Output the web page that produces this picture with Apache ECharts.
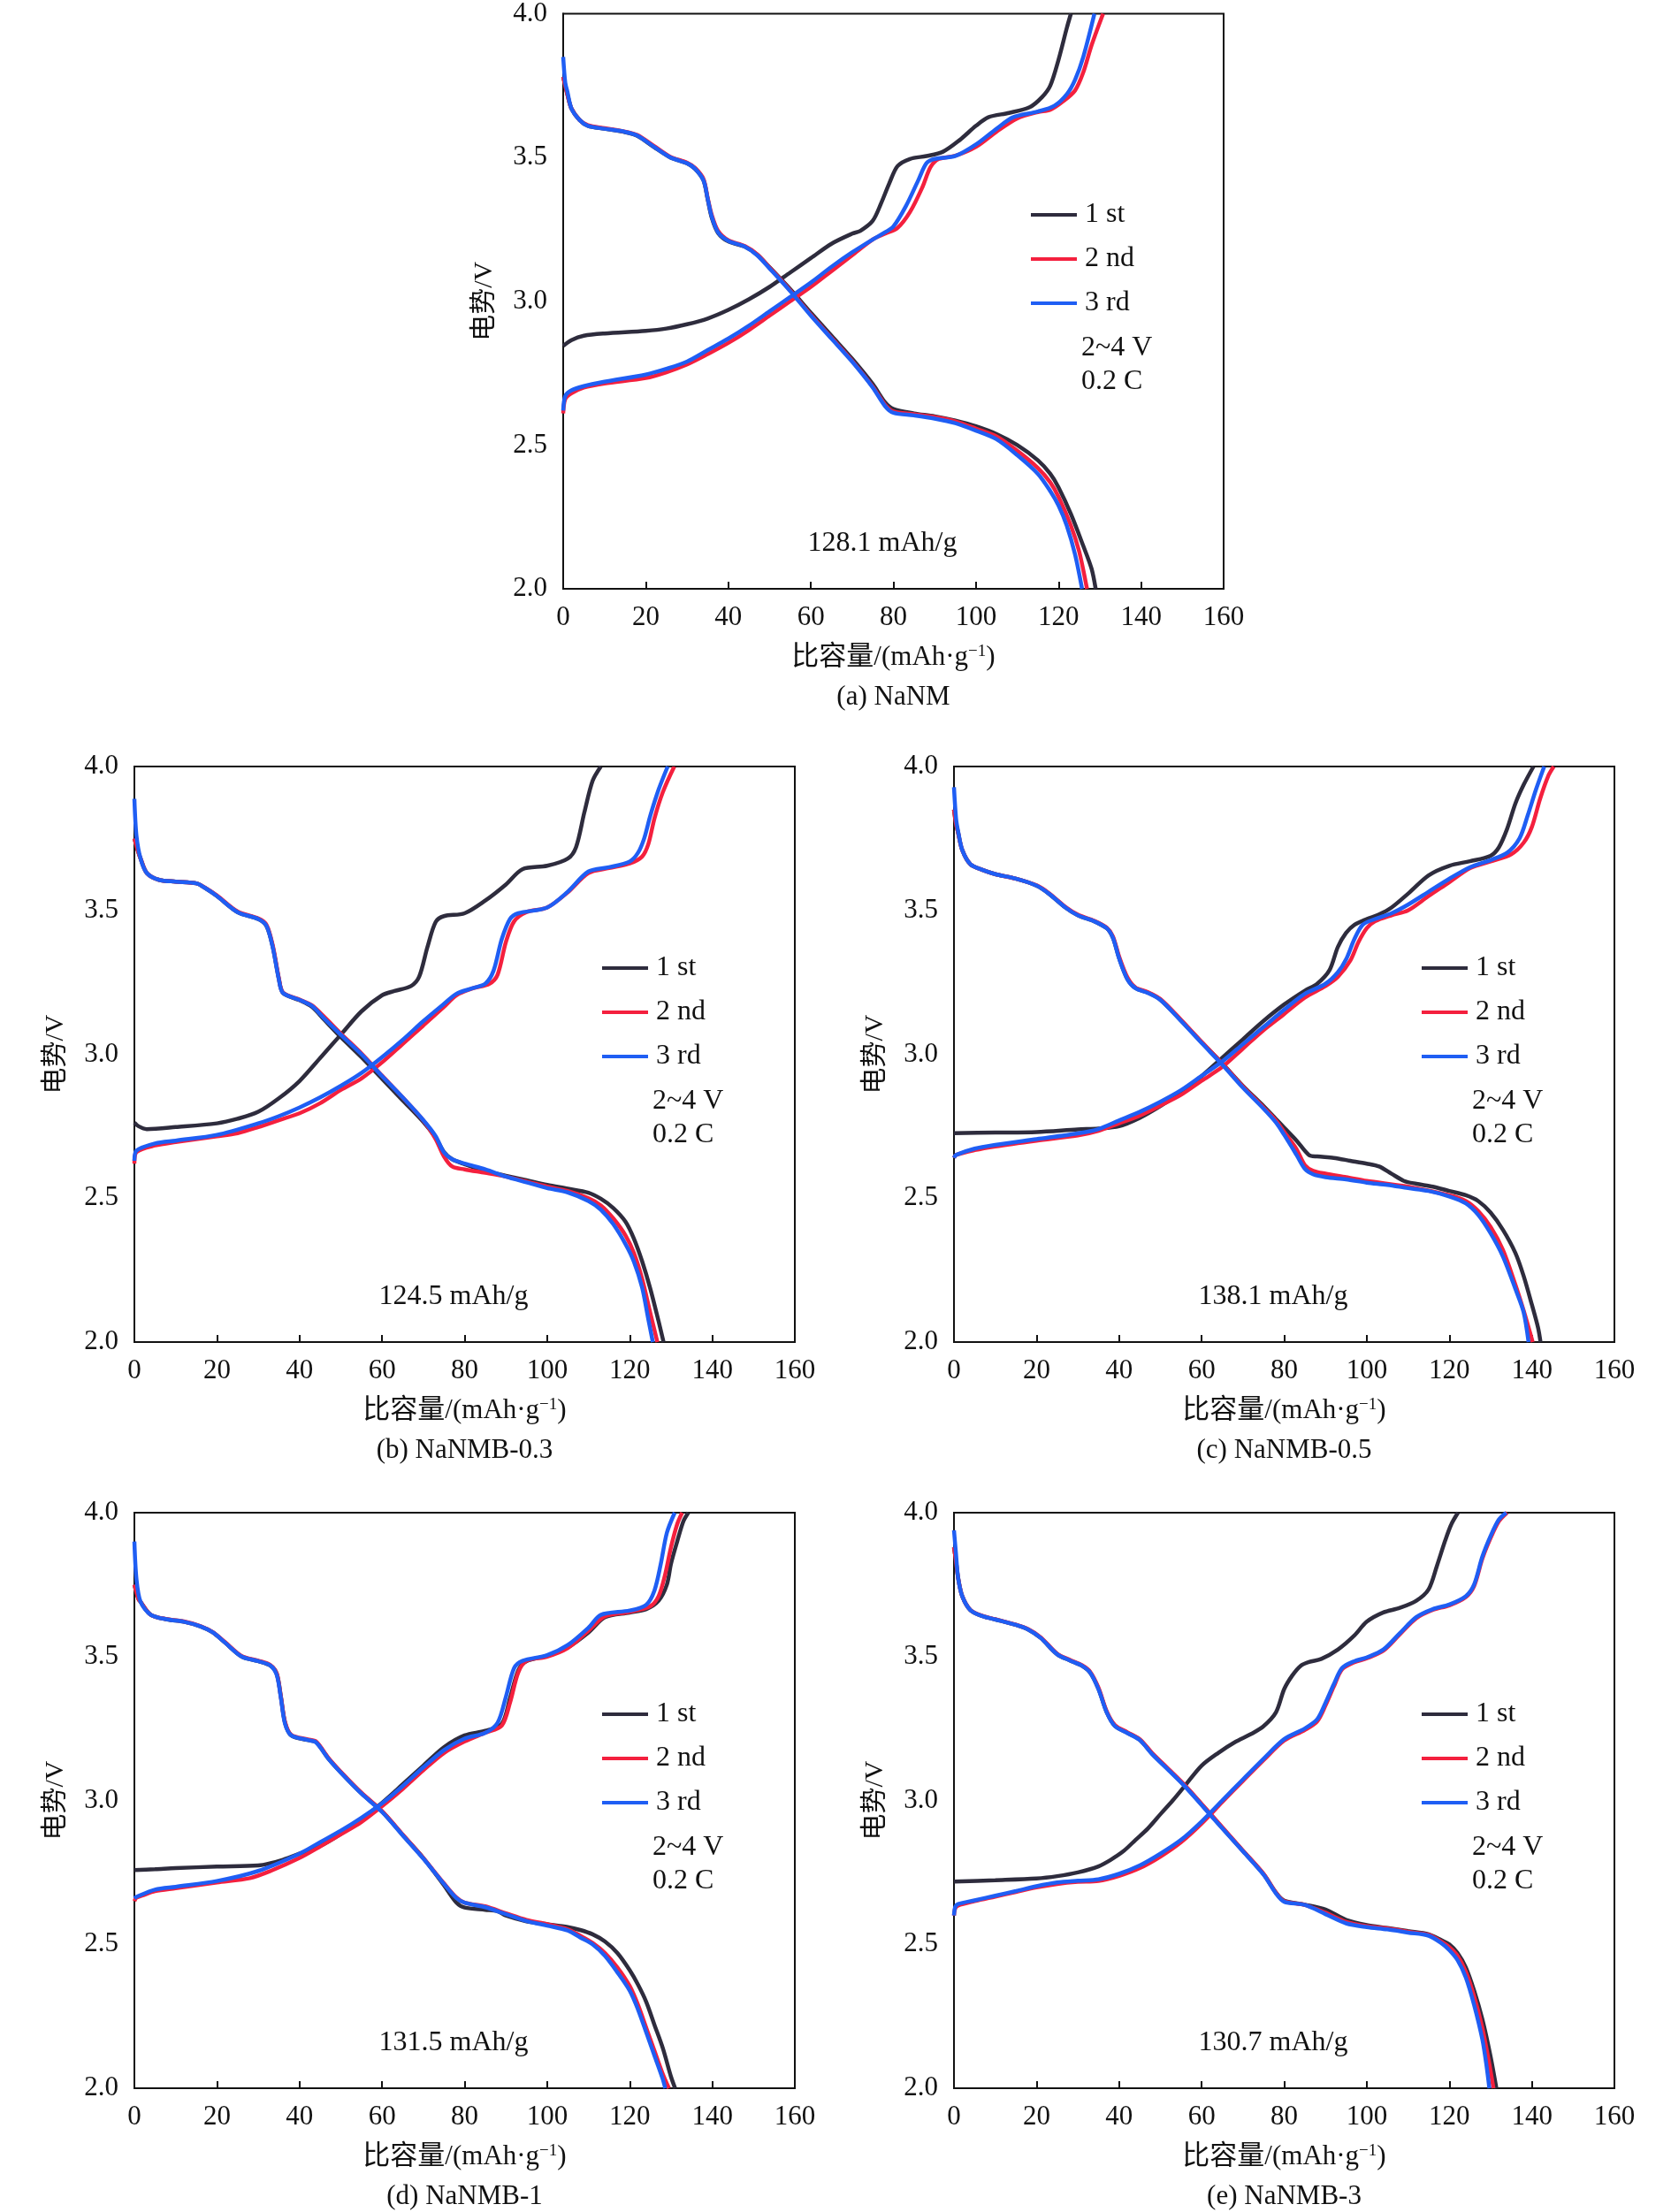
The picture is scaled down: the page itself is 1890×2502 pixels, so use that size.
<!DOCTYPE html>
<html><head><meta charset="utf-8">
<script src="https://cdn.jsdelivr.net/npm/echarts@6/dist/echarts.min.js"></script>
<style>html,body{margin:0;padding:0;background:#fff}#c{width:1890px;height:2502px}</style>
</head><body><div id="c"></div>
<script>
// ---------- data (capacity mAh/g, voltage V) ----------
const cycleNames = ['1 st', '2 nd', '3 rd'];
const panelCaptions = ['(a) NaNM', '(b) NaNMB-0.3', '(c) NaNMB-0.5', '(d) NaNMB-1', '(e) NaNMB-3'];
const capacityLabels = ['128.1 mAh/g', '124.5 mAh/g', '138.1 mAh/g', '131.5 mAh/g', '130.7 mAh/g'];
const xTicks = [0, 20, 40, 60, 80, 100, 120, 140, 160];
const yTicks = [2.0, 2.5, 3.0, 3.5, 4.0];

// (a) NaNM
const aC1 = [[0,2.845],[2,2.865],[5,2.88],[10,2.888],[20,2.897],[25,2.905],[30,2.92],[35,2.94],[40,2.97],[45,3.007],[50,3.05],[55,3.10],[60,3.15],[65,3.20],[70,3.235],[72,3.245],[75,3.28],[77,3.34],[79,3.41],[81,3.47],[84,3.495],[88,3.505],[92,3.52],[96,3.56],[100,3.61],[103,3.64],[108,3.655],[113,3.675],[116,3.71],[118,3.75],[120,3.84],[122,3.95],[123,4.0]];
const aC2 = [[0,2.61],[0.5,2.66],[2,2.68],[5,2.70],[10,2.714],[20,2.733],[25,2.753],[30,2.78],[35,2.816],[40,2.855],[45,2.90],[50,2.95],[55,3.0],[60,3.05],[65,3.105],[70,3.16],[75,3.215],[78,3.235],[81,3.255],[84,3.31],[87,3.396],[89,3.467],[91,3.495],[95,3.506],[100,3.537],[105,3.59],[110,3.636],[115,3.658],[118,3.666],[121,3.694],[124,3.733],[126,3.796],[128,3.89],[130.8,4.0]];
const aC3 = [[0,2.62],[0.5,2.67],[2,2.69],[5,2.705],[10,2.72],[20,2.745],[25,2.765],[30,2.79],[35,2.83],[40,2.87],[45,2.915],[50,2.965],[55,3.015],[60,3.065],[65,3.12],[70,3.17],[75,3.215],[78,3.24],[80,3.26],[83,3.33],[86,3.42],[88,3.48],[90,3.495],[95,3.505],[100,3.545],[105,3.60],[109,3.64],[115,3.66],[119,3.68],[122,3.72],[124,3.77],[126,3.85],[128.7,4.0]];
const aD1 = [[0,3.78],[1,3.72],[2,3.67],[4,3.63],[6,3.61],[10,3.60],[15,3.588],[18,3.575],[22,3.536],[26,3.50],[30,3.48],[32,3.46],[34,3.42],[35,3.355],[36,3.29],[37.5,3.238],[40,3.208],[44,3.19],[47,3.162],[50,3.118],[55,3.042],[60,2.96],[65,2.88],[70,2.80],[75,2.712],[78,2.648],[80,2.625],[85,2.61],[90,2.60],[95,2.585],[100,2.565],[105,2.538],[110,2.50],[115,2.447],[118,2.40],[120,2.353],[123,2.26],[126,2.149],[128,2.07],[129,2.0]];
const aD2 = [[0,3.78],[1,3.72],[2,3.67],[4,3.63],[6,3.612],[10,3.602],[15,3.59],[18,3.578],[22,3.54],[26,3.502],[30,3.482],[32,3.463],[34,3.425],[35,3.36],[36,3.30],[37.5,3.245],[40,3.212],[44,3.192],[47,3.163],[50,3.117],[55,3.038],[60,2.953],[65,2.873],[70,2.793],[75,2.703],[78,2.64],[80,2.617],[85,2.607],[90,2.597],[95,2.582],[100,2.557],[105,2.53],[110,2.48],[115,2.42],[118,2.37],[120,2.32],[123,2.22],[125,2.13],[126.9,2.0]];
const aD3 = [[0,3.85],[0.5,3.76],[1,3.73],[2,3.67],[4,3.63],[6,3.61],[10,3.60],[15,3.589],[18,3.576],[22,3.537],[26,3.50],[30,3.48],[32,3.46],[34,3.42],[35,3.357],[36,3.294],[37.5,3.24],[40,3.21],[44,3.19],[47,3.16],[50,3.114],[55,3.035],[60,2.95],[65,2.87],[70,2.79],[75,2.70],[78,2.635],[80,2.612],[85,2.603],[90,2.592],[95,2.576],[100,2.55],[105,2.52],[110,2.465],[115,2.40],[118,2.34],[120,2.29],[122,2.22],[124,2.12],[125.7,2.0]];

// (b) NaNMB-0.3
const bC1 = [[0,2.763],[1,2.75],[3,2.74],[10,2.747],[20,2.76],[25,2.776],[30,2.80],[35,2.847],[40,2.907],[45,2.987],[50,3.068],[55,3.149],[60,3.205],[63,3.22],[67,3.237],[69,3.27],[71,3.373],[73,3.46],[75,3.48],[80,3.49],[85,3.534],[90,3.59],[94,3.643],[100,3.655],[105,3.68],[107,3.72],[109,3.84],[111,3.95],[113,4.0]];
const bC2 = [[0,2.62],[0.5,2.66],[5,2.683],[10,2.695],[20,2.715],[25,2.726],[30,2.747],[35,2.771],[40,2.795],[45,2.83],[50,2.876],[55,2.916],[60,2.972],[65,3.036],[70,3.10],[75,3.165],[78,3.205],[82,3.229],[86,3.245],[88,3.277],[90,3.39],[92,3.462],[95,3.494],[100,3.51],[105,3.563],[110,3.63],[115,3.647],[120,3.663],[123,3.687],[124.5,3.73],[126,3.82],[128,3.91],[130.8,4.0]];
const bC3 = [[0,2.63],[0.5,2.665],[5,2.69],[10,2.70],[20,2.72],[30,2.76],[35,2.785],[40,2.815],[45,2.85],[50,2.89],[55,2.935],[60,2.99],[65,3.05],[70,3.115],[75,3.175],[78,3.21],[82,3.23],[85,3.245],[87,3.29],[89,3.40],[91,3.47],[93,3.49],[100,3.51],[105,3.565],[110,3.635],[115,3.65],[120,3.67],[122,3.70],[123.5,3.75],[125,3.83],[127,3.92],[129.2,4.0]];
const bD1 = [[0,3.75],[1,3.70],[1.5,3.68],[3,3.63],[6,3.606],[10,3.60],[15,3.594],[17,3.579],[20,3.55],[25,3.494],[30,3.47],[32,3.446],[33.5,3.375],[35,3.262],[36,3.213],[40,3.188],[43,3.165],[46,3.12],[50,3.06],[55,2.99],[60,2.915],[65,2.84],[70,2.765],[73,2.71],[75,2.66],[77,2.635],[80,2.618],[85,2.594],[90,2.578],[95,2.562],[100,2.546],[105,2.533],[110,2.519],[113,2.498],[116,2.466],[119,2.418],[121,2.36],[123,2.281],[125,2.185],[127,2.072],[128.2,2.0]];
const bD2 = [[0,3.75],[1,3.70],[1.5,3.68],[3,3.63],[6,3.606],[10,3.60],[15,3.594],[17,3.58],[20,3.552],[25,3.496],[30,3.472],[32,3.45],[33.5,3.38],[35,3.265],[36,3.215],[40,3.19],[43,3.17],[46,3.13],[50,3.072],[55,3.003],[60,2.926],[65,2.85],[70,2.77],[73,2.705],[75,2.645],[77,2.61],[80,2.60],[85,2.588],[90,2.575],[95,2.558],[100,2.54],[105,2.525],[110,2.50],[113,2.475],[116,2.43],[119,2.37],[121,2.31],[123,2.22],[125,2.10],[126.7,2.0]];
const bD3 = [[0,3.888],[0.5,3.76],[1.5,3.68],[3,3.63],[6,3.606],[10,3.60],[15,3.594],[17,3.579],[20,3.55],[25,3.494],[30,3.47],[32,3.446],[33.5,3.373],[35,3.26],[36,3.213],[40,3.189],[43,3.168],[46,3.124],[50,3.068],[55,3.0],[60,2.924],[65,2.85],[70,2.771],[73,2.715],[75,2.659],[77,2.635],[80,2.62],[85,2.60],[90,2.575],[95,2.555],[100,2.535],[105,2.52],[110,2.49],[113,2.46],[116,2.41],[119,2.34],[121,2.28],[123,2.19],[124.5,2.08],[125.6,2.0]];

// (c) NaNMB-0.5
const cC1 = [[0,2.726],[10,2.728],[20,2.73],[30,2.739],[35,2.742],[40,2.75],[45,2.779],[50,2.82],[55,2.867],[60,2.924],[65,2.988],[70,3.052],[75,3.116],[80,3.173],[85,3.221],[88,3.245],[91,3.293],[93,3.373],[95,3.422],[97,3.45],[100,3.47],[103,3.486],[106,3.51],[110,3.558],[115,3.622],[120,3.655],[125,3.671],[130,3.69],[132,3.719],[134,3.783],[136,3.871],[138,3.936],[140.4,4.0]];
const cC2 = [[0,2.64],[0.5,2.65],[5,2.667],[10,2.68],[20,2.70],[30,2.718],[35,2.734],[40,2.76],[45,2.787],[50,2.822],[55,2.859],[60,2.908],[65,2.956],[70,3.02],[75,3.084],[80,3.14],[85,3.197],[90,3.237],[93,3.269],[96,3.325],[98,3.39],[100,3.438],[102,3.462],[106,3.483],[110,3.50],[115,3.55],[120,3.598],[125,3.647],[130,3.67],[135,3.695],[138,3.735],[140,3.79],[142,3.888],[144,3.968],[145.3,4.0]];
const cC3 = [[0,2.64],[0.5,2.65],[5,2.672],[10,2.685],[20,2.705],[30,2.725],[35,2.74],[40,2.77],[45,2.80],[50,2.835],[55,2.875],[60,2.925],[65,2.975],[70,3.035],[75,3.095],[80,3.155],[85,3.21],[90,3.245],[93,3.285],[95,3.33],[97,3.40],[99,3.45],[102,3.47],[106,3.49],[110,3.52],[115,3.565],[120,3.61],[125,3.65],[130,3.675],[134,3.70],[137,3.75],[139,3.83],[141,3.92],[143,4.0]];
const cD1 = [[0,3.85],[0.5,3.80],[1,3.77],[2,3.71],[4,3.66],[7,3.64],[10,3.626],[15,3.61],[20,3.586],[23,3.558],[27,3.51],[30,3.483],[34,3.462],[37,3.438],[38.5,3.405],[40,3.335],[42,3.262],[44,3.23],[47,3.214],[50,3.19],[55,3.118],[60,3.042],[65,2.968],[70,2.89],[75,2.82],[78,2.775],[80,2.745],[83,2.70],[86,2.65],[88,2.645],[92,2.64],[96,2.63],[100,2.62],[103,2.61],[106,2.585],[109,2.56],[112,2.55],[116,2.54],[120,2.525],[124,2.51],[127,2.49],[130,2.45],[133,2.39],[136,2.31],[138,2.23],[140,2.13],[141.5,2.05],[142.1,2.0]];
const cD2 = [[0,3.85],[0.5,3.80],[1,3.77],[2,3.71],[4,3.66],[7,3.64],[10,3.626],[15,3.61],[20,3.587],[23,3.56],[27,3.512],[30,3.485],[34,3.464],[37,3.44],[38.5,3.41],[40,3.34],[42,3.268],[44,3.232],[47,3.216],[50,3.192],[55,3.12],[60,3.043],[65,2.968],[70,2.888],[75,2.815],[78,2.77],[80,2.73],[83,2.67],[85,2.615],[87,2.595],[90,2.585],[95,2.573],[100,2.56],[110,2.54],[120,2.51],[124,2.49],[127,2.455],[130,2.40],[133,2.32],[136,2.20],[138,2.11],[140.2,2.0]];
const cD3 = [[0,3.928],[0.5,3.82],[1,3.775],[2,3.71],[4,3.66],[7,3.64],[10,3.626],[15,3.61],[20,3.586],[23,3.558],[27,3.51],[30,3.483],[34,3.462],[37,3.438],[38.5,3.405],[40,3.333],[42,3.261],[44,3.229],[47,3.213],[50,3.189],[55,3.116],[60,3.039],[65,2.964],[70,2.884],[75,2.811],[78,2.763],[80,2.72],[83,2.65],[85,2.602],[87,2.583],[90,2.573],[95,2.565],[100,2.554],[105,2.546],[110,2.535],[115,2.525],[120,2.506],[124,2.482],[127,2.442],[130,2.378],[133,2.297],[136,2.185],[138,2.104],[139.2,2.0]];

// (d) NaNMB-1
const dC1 = [[0,2.758],[5,2.761],[10,2.765],[20,2.77],[30,2.774],[33,2.782],[36,2.794],[40,2.815],[45,2.842],[50,2.884],[55,2.935],[60,2.992],[65,3.056],[70,3.121],[75,3.185],[80,3.226],[85,3.242],[89,3.266],[91,3.355],[93,3.452],[95,3.484],[100,3.503],[105,3.532],[110,3.584],[114,3.637],[120,3.653],[124,3.665],[127,3.694],[129,3.75],[130,3.823],[131.5,3.90],[133,3.97],[134.2,4.0]];
const dC2 = [[0,2.65],[0.5,2.662],[2,2.67],[5,2.685],[10,2.695],[20,2.715],[28,2.73],[33,2.755],[40,2.80],[45,2.84],[50,2.882],[55,2.925],[60,2.98],[65,3.04],[70,3.105],[75,3.165],[80,3.205],[85,3.235],[89,3.26],[91,3.34],[93,3.445],[95,3.485],[100,3.50],[105,3.53],[110,3.59],[114,3.64],[120,3.655],[125,3.675],[127,3.71],[128.5,3.78],[130,3.88],[131.5,3.96],[132.7,4.0]];
const dC3 = [[0,2.66],[0.5,2.665],[5,2.69],[10,2.70],[20,2.72],[30,2.755],[40,2.815],[45,2.855],[50,2.895],[55,2.94],[60,2.99],[65,3.05],[70,3.115],[75,3.175],[80,3.215],[85,3.235],[88,3.27],[90,3.36],[92,3.46],[94,3.485],[100,3.505],[105,3.54],[110,3.60],[113,3.645],[120,3.66],[124,3.68],[126,3.73],[127.5,3.82],[129,3.93],[130.9,4.0]];
const dD1 = [[0,3.75],[1,3.70],[1.5,3.69],[4,3.645],[8,3.629],[12,3.621],[16,3.605],[19,3.584],[22,3.548],[26,3.50],[30,3.484],[33,3.468],[34.5,3.44],[35.5,3.36],[36.5,3.27],[38,3.226],[42,3.21],[44,3.203],[47,3.146],[50,3.098],[55,3.025],[60,2.962],[65,2.88],[70,2.80],[75,2.705],[78,2.645],[80,2.628],[85,2.62],[88,2.615],[90,2.60],[95,2.58],[100,2.57],[105,2.56],[108,2.55],[111,2.535],[114,2.51],[117,2.47],[120,2.41],[122,2.36],[124,2.30],[126,2.22],[128,2.14],[130,2.04],[131,2.0]];
const dD2 = [[0,3.75],[1,3.70],[1.5,3.69],[4,3.645],[8,3.63],[12,3.622],[16,3.606],[19,3.585],[22,3.55],[26,3.502],[30,3.486],[33,3.47],[34.5,3.44],[35.5,3.36],[36.5,3.272],[38,3.228],[42,3.212],[44,3.205],[47,3.148],[50,3.10],[55,3.027],[60,2.963],[65,2.882],[70,2.80],[75,2.712],[78,2.663],[80,2.645],[85,2.632],[90,2.608],[95,2.585],[100,2.57],[105,2.552],[108,2.53],[111,2.505],[114,2.47],[117,2.42],[120,2.355],[122,2.29],[124,2.21],[126,2.13],[128,2.05],[129.5,2.0]];
const dD3 = [[0,3.90],[0.5,3.77],[1.5,3.69],[4,3.645],[8,3.629],[12,3.621],[16,3.605],[19,3.584],[22,3.548],[26,3.50],[30,3.484],[33,3.468],[34.5,3.435],[35.5,3.355],[36.5,3.266],[38,3.226],[42,3.21],[44,3.202],[47,3.145],[50,3.097],[55,3.024],[60,2.96],[65,2.879],[70,2.798],[75,2.71],[78,2.661],[80,2.645],[85,2.629],[90,2.605],[95,2.581],[100,2.565],[105,2.548],[108,2.524],[111,2.50],[114,2.46],[117,2.403],[120,2.339],[122,2.274],[124,2.194],[126,2.113],[128,2.032],[128.6,2.0]];

// (e) NaNMB-3
const eC1 = [[0,2.718],[10,2.723],[20,2.729],[25,2.737],[30,2.75],[35,2.771],[38,2.794],[41,2.823],[44,2.863],[47,2.903],[50,2.952],[53,3.0],[56,3.052],[60,3.121],[64,3.165],[68,3.202],[72,3.231],[75,3.258],[78,3.306],[80,3.387],[82,3.435],[84,3.468],[86,3.481],[89,3.492],[93,3.524],[97,3.573],[100,3.621],[104,3.653],[108,3.669],[112,3.694],[115,3.734],[117,3.815],[119,3.903],[120.5,3.96],[122.1,4.0]];
const eC2 = [[0,2.60],[0.3,2.625],[1,2.635],[5,2.65],[10,2.666],[15,2.682],[20,2.698],[25,2.71],[30,2.717],[35,2.72],[40,2.738],[45,2.765],[50,2.805],[55,2.855],[60,2.92],[65,2.995],[70,3.068],[75,3.14],[80,3.208],[85,3.245],[88,3.275],[90,3.33],[92,3.395],[94,3.455],[97,3.48],[100,3.494],[104,3.52],[108,3.577],[112,3.633],[116,3.662],[120,3.678],[124,3.707],[126,3.745],[128,3.84],[130,3.912],[132,3.97],[134,4.0]];
const eC3 = [[0,2.60],[0.3,2.63],[1,2.64],[5,2.653],[10,2.669],[15,2.685],[20,2.702],[25,2.715],[30,2.721],[35,2.726],[40,2.745],[45,2.774],[50,2.815],[55,2.863],[60,2.927],[65,3.0],[70,3.073],[75,3.145],[80,3.213],[85,3.25],[88,3.282],[90,3.339],[92,3.403],[94,3.46],[97,3.484],[100,3.497],[104,3.524],[108,3.581],[112,3.637],[116,3.665],[120,3.681],[124,3.71],[126,3.75],[128,3.847],[130,3.919],[132,3.976],[133.8,4.0]];
const eD1 = [[0,3.88],[0.5,3.83],[1,3.774],[2,3.71],[4,3.661],[7,3.64],[10,3.629],[15,3.61],[18,3.594],[21,3.565],[25,3.508],[28,3.487],[31,3.468],[33,3.444],[35,3.388],[37,3.307],[39,3.259],[42,3.235],[45,3.211],[48,3.163],[52,3.107],[56,3.05],[60,2.986],[65,2.905],[70,2.825],[75,2.744],[78,2.68],[80,2.652],[85,2.638],[90,2.621],[95,2.585],[100,2.567],[105,2.557],[110,2.546],[115,2.535],[118,2.515],[120,2.50],[122,2.47],[124,2.42],[126,2.34],[128,2.24],[130,2.11],[131.4,2.0]];
const eD2 = [[0,3.88],[0.5,3.83],[1,3.774],[2,3.71],[4,3.662],[7,3.641],[10,3.63],[15,3.611],[18,3.595],[21,3.567],[25,3.51],[28,3.489],[31,3.47],[33,3.447],[35,3.392],[37,3.31],[39,3.262],[42,3.237],[45,3.213],[48,3.165],[52,3.109],[56,3.052],[60,2.988],[65,2.907],[70,2.826],[75,2.745],[78,2.68],[80,2.65],[85,2.637],[90,2.61],[95,2.578],[100,2.563],[105,2.555],[110,2.544],[115,2.533],[118,2.51],[120,2.49],[122,2.46],[124,2.405],[126,2.32],[128,2.21],[129.5,2.10],[130.7,2.0]];
const eD3 = [[0,3.939],[0.5,3.855],[1,3.774],[2,3.71],[4,3.661],[7,3.64],[10,3.629],[15,3.61],[18,3.594],[21,3.565],[25,3.508],[28,3.487],[31,3.468],[33,3.444],[35,3.387],[37,3.306],[39,3.258],[42,3.234],[45,3.21],[48,3.161],[52,3.105],[56,3.048],[60,2.984],[65,2.903],[70,2.823],[75,2.742],[78,2.677],[80,2.648],[85,2.637],[90,2.605],[95,2.573],[100,2.56],[105,2.552],[110,2.541],[115,2.53],[118,2.505],[120,2.48],[122,2.445],[124,2.385],[126,2.29],[128,2.17],[129,2.08],[129.7,2.0]];

// ---------- layout ----------
const panels = [
  {left: 637,  top: 15,   curves: [[aC1, aD1], [aC2, aD2], [aC3, aD3]]},
  {left: 152,  top: 867,  curves: [[bC1, bD1], [bC2, bD2], [bC3, bD3]]},
  {left: 1079, top: 867,  curves: [[cC1, cD1], [cC2, cD2], [cC3, cD3]]},
  {left: 152,  top: 1711, curves: [[dC1, dD1], [dC2, dD2], [dC3, dD3]]},
  {left: 1079, top: 1711, curves: [[eC1, eD1], [eC2, eD2], [eC3, eD3]]}
];
const W = 747, H = 651;
const colors = ['#2e2c3d', '#f4203e', '#1f5ef4'];
const serif = '"Liberation Serif", "Times New Roman", "Noto Sans CJK SC", serif';

const grids = [], xAxes = [], yAxes = [], series = [], legends = [], graphics = [];
panels.forEach((p, i) => {
  grids.push({left: p.left, top: p.top, width: W, height: H, show: true,
    borderColor: '#111', borderWidth: 2, backgroundColor: 'transparent', containLabel: false});
  xAxes.push({type: 'value', gridIndex: i, min: xTicks[0], max: xTicks[xTicks.length - 1], interval: 20,
    axisLine: {show: true, onZero: false, lineStyle: {color: '#111', width: 2}},
    axisTick: {show: true, inside: true, length: 8, lineStyle: {color: '#111', width: 2}},
    splitLine: {show: false},
    axisLabel: {color: '#111', fontFamily: serif, fontSize: 31, margin: 17},
    name: '比容量/(mAh·g{sup|−1})', nameLocation: 'middle', nameGap: 62,
    nameTextStyle: {color: '#111', fontFamily: serif, fontSize: 31,
      rich: {sup: {fontSize: 19, fontFamily: serif, color: '#111', verticalAlign: 'top', lineHeight: 18, padding: [0, 0, 14, 0]}}}
  });
  yAxes.push({type: 'value', gridIndex: i, min: yTicks[0], max: yTicks[yTicks.length - 1], interval: 0.5,
    axisLine: {show: true, lineStyle: {color: '#111', width: 2}},
    axisTick: {show: false}, splitLine: {show: false},
    axisLabel: {color: '#111', fontFamily: serif, fontSize: 31, margin: 18, formatter: v => v.toFixed(1)},
    name: '电势/V', nameLocation: 'middle', nameGap: 74, nameRotate: 90,
    nameTextStyle: {color: '#111', fontFamily: serif, fontSize: 30}
  });
  p.curves.forEach((pair, k) => {
    pair.forEach(d => {
      series.push({type: 'line', name: cycleNames[k], xAxisIndex: i, yAxisIndex: i, data: d,
        showSymbol: false, symbol: 'none', smooth: 0.3, clip: true,
        lineStyle: {color: colors[k], width: 4.5}, itemStyle: {color: colors[k]},
        emphasis: {disabled: true}, z: 2 + k, animation: false});
    });
  });
  legends.push({orient: 'vertical', left: p.left + 529, top: p.top + 212, itemGap: 18,
    icon: 'rect', itemWidth: 52, itemHeight: 4, padding: 0, selectedMode: false,
    data: cycleNames, textStyle: {color: '#111', fontFamily: serif, fontSize: 32, padding: [0, 0, 0, 4]}});
  const txt = (x, y, t, align, size) => ({type: 'text', x: x, y: y, silent: true,
    style: {text: t, fill: '#111', font: size + 'px ' + serif, textAlign: align, textVerticalAlign: 'middle'}});
  graphics.push(txt(p.left + 586, p.top + 379, '2~4 V', 'left', 32));
  graphics.push(txt(p.left + 586, p.top + 417, '0.2 C', 'left', 32));
  graphics.push(txt(p.left + 361, p.top + 600, capacityLabels[i], 'center', 32));
  graphics.push(txt(p.left + W / 2, p.top + H + 123, panelCaptions[i], 'center', 31));
});

const chart = echarts.init(document.getElementById('c'), null, {renderer: 'canvas'});
chart.setOption({backgroundColor: '#fff', animation: false, grid: grids, xAxis: xAxes, yAxis: yAxes,
  series: series, legend: legends, graphic: graphics});
</script></body></html>
